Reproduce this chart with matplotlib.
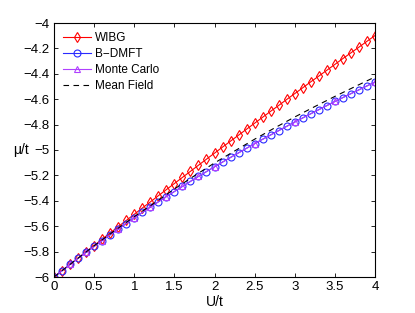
import numpy as np
import matplotlib
matplotlib.use("Agg")
import matplotlib.pyplot as plt

U = [round(0.1 * i, 1) for i in range(41)]

wibg = [-6.000, -5.950, -5.900, -5.851, -5.801, -5.752, -5.702, -5.653, -5.604, -5.555,
        -5.506, -5.457, -5.409, -5.360, -5.312, -5.264, -5.216, -5.168, -5.120, -5.072,
        -5.025, -4.977, -4.930, -4.883, -4.836, -4.789, -4.742, -4.695, -4.649, -4.602,
        -4.556, -4.510, -4.463, -4.418, -4.372, -4.326, -4.280, -4.235, -4.190, -4.144,
        -4.099]

bdmft = [-6.000, -5.950, -5.901, -5.853, -5.806, -5.759, -5.713, -5.667, -5.623, -5.579,
         -5.535, -5.492, -5.450, -5.408, -5.367, -5.327, -5.287, -5.247, -5.208, -5.170,
         -5.132, -5.095, -5.058, -5.022, -4.986, -4.950, -4.915, -4.881, -4.847, -4.813,
         -4.780, -4.747, -4.714, -4.682, -4.650, -4.618, -4.587, -4.556, -4.526, -4.495,
         -4.465]

U_mc = [0.0, 0.2, 0.4, 0.6, 0.8, 1.0, 1.2, 1.4, 1.6, 1.8, 2.0, 2.5, 3.0, 3.5, 4.0]
mc = [-6.000, -5.901, -5.806, -5.713, -5.623, -5.535, -5.450, -5.367, -5.287, -5.208,
      -5.132, -4.950, -4.780, -4.618, -4.465]

U_mf = [0.0, 0.25, 0.5, 0.75, 1.0, 1.25, 1.5, 1.75, 2.0, 2.25, 2.5, 2.75, 3.0, 3.25, 3.5, 3.75, 4.0]
mf = [-6.000, -5.876, -5.754, -5.638, -5.525, -5.418, -5.307, -5.203, -5.102, -5.008,
      -4.915, -4.826, -4.740, -4.658, -4.578, -4.501, -4.425]

labels = ["WIBG", "B\u2212DMFT", "Monte Carlo", "Mean Field"]
xticks = [0, 0.5, 1, 1.5, 2, 2.5, 3, 3.5, 4]
yticks = [-6, -5.8, -5.6, -5.4, -5.2, -5, -4.8, -4.6, -4.4, -4.2, -4]

plt.rcParams['font.family'] = ['Liberation Sans', 'DejaVu Sans']
plt.rcParams['font.size'] = 8

fig = plt.figure(figsize=(4.15, 3.13), dpi=100)
ax = fig.add_axes([54/415, 1 - 277/313, (375 - 54)/415, (277 - 23)/313])

ax.plot(U, wibg, color='#ff0000', lw=0.8, marker='d', ms=5, mfc='none', mew=0.8, label=labels[0])
ax.plot(U, bdmft, color='#2a2aff', lw=0.8, marker='o', ms=5, mfc='none', mew=0.8, label=labels[1])
ax.plot(U_mc, mc, color='#b040ff', lw=0.8, marker='^', ms=5, mfc='none', mew=0.8, label=labels[2])
ax.plot(U_mf, mf, color='black', lw=0.8, ls=(0, (5, 4)), label=labels[3])

ax.set_xlim(0, 4)
ax.set_ylim(-6, -4)
ax.set_xticks(xticks)
ax.set_yticks(yticks)
ax.set_xticklabels(["%g" % v for v in xticks])
ax.set_yticklabels([("%g" % v).replace('-', '\u2212') for v in yticks])
ax.tick_params(direction='in', top=True, right=True, length=3, width=0.6, labelsize=9.5, pad=3)
for s in ax.spines.values():
    s.set_linewidth(0.8)

ax.set_xlabel("U/t", fontsize=10, labelpad=1)
ax.set_ylabel("\u03bc/t", fontsize=10, rotation=0, ha='center', va='center')
ax.yaxis.set_label_coords(-0.102, 0.5)

leg = ax.legend(loc='upper left', frameon=False, fontsize=8.5, handlelength=2.3,
                handletextpad=0.35, labelspacing=0.32, borderaxespad=0.5, borderpad=0.3)

fig.savefig("out.png", dpi=100)
